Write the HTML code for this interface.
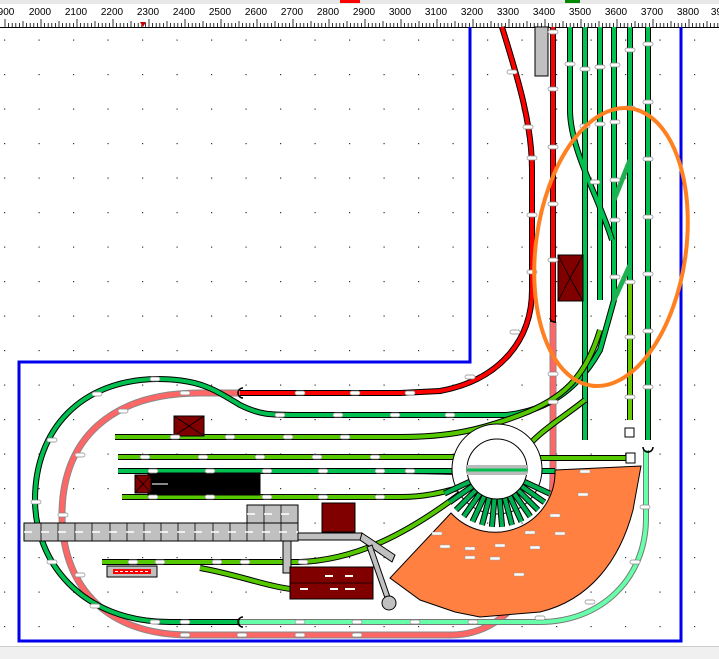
<!DOCTYPE html>
<html><head><meta charset="utf-8"><style>
html,body{margin:0;padding:0;background:#fff;width:719px;height:659px;overflow:hidden}
svg{display:block;font-family:"Liberation Sans",sans-serif}
</style></head><body>
<svg width="719" height="659" viewBox="0 0 719 659" xmlns="http://www.w3.org/2000/svg">
<defs>
<pattern id="dots" x="4" y="5" width="34.5" height="34.5" patternUnits="userSpaceOnUse"><rect x="0" y="0" width="1.2" height="1.2" fill="#333"/></pattern>
</defs>
<rect x="0" y="0" width="719" height="659" fill="#fff"/>
<rect x="0" y="28" width="719" height="617" fill="url(#dots)"/>
<rect x="0" y="0" width="719" height="4" fill="#e8e8e8"/>
<rect x="340" y="0" width="20" height="3" fill="#f00"/>
<rect x="565" y="0" width="15" height="3" fill="#080"/>
<g font-size="10" fill="#000" text-anchor="middle">
<text x="6" y="15">900</text><text x="40" y="15">2000</text><text x="76" y="15">2100</text><text x="112" y="15">2200</text><text x="148" y="15">2300</text><text x="184" y="15">2400</text><text x="220" y="15">2500</text><text x="256" y="15">2600</text><text x="292" y="15">2700</text><text x="328" y="15">2800</text><text x="364" y="15">2900</text><text x="400" y="15">3000</text><text x="436" y="15">3100</text><text x="472" y="15">3200</text><text x="508" y="15">3300</text><text x="544" y="15">3400</text><text x="580" y="15">3500</text><text x="616" y="15">3600</text><text x="652" y="15">3700</text><text x="688" y="15">3800</text><text x="722" y="15">3900</text>
</g>
<path d="M0,27.5H719" stroke="#000"/>
<g stroke="#000" stroke-width="1" id="ticks"></g>
<polygon points="140,22 146,22 143,27" fill="#c00"/>
<path d="M470,27V362H19V641H681V27" fill="none" stroke="#0000ee" stroke-width="3"/>
<g fill="none" stroke-linecap="butt">
<path d="M553,322V470C553,560 520,635 450,635H190C100,635 62,580 62,515C62,440 110,393 200,393H240" stroke="#888" stroke-width="7"/>
<path d="M553,322V470C553,560 520,635 450,635H190C100,635 62,580 62,515C62,440 110,393 200,393H240" stroke="#ff6666" stroke-width="5"/>
<path d="M553,27V322" stroke="#000" stroke-width="6"/><path d="M553,27V322" stroke="#f00" stroke-width="4"/>
<path d="M502,27C515,70 532,120 532,170V290C532,340 500,380 440,391L400,393H240" stroke="#000" stroke-width="6"/>
<path d="M502,27C515,70 532,120 532,170V290C532,340 500,380 440,391L400,393H240" stroke="#f00" stroke-width="4"/>
<path d="M240,622H170C80,622 35,560 35,500C35,430 80,380 157,379C200,379 215,390 240,405C260,415 270,415 300,415H505C540,412 575,395 600,350L614,300V27" stroke="#000" stroke-width="6"/>
<path d="M240,622H170C80,622 35,560 35,500C35,430 80,380 157,379C200,379 215,390 240,405C260,415 270,415 300,415H505C540,412 575,395 600,350L614,300V27" stroke="#00c050" stroke-width="4"/>
<path d="M240,622H540C600,622 645,580 646,520V450" stroke="#777" stroke-width="6"/>
<path d="M240,622H540C600,622 645,580 646,520V450" stroke="#66ffaa" stroke-width="4"/>
<g stroke="#000" stroke-width="6">
<path d="M570,27V110C570,150 600,200 612,240"/><path d="M585,27V440"/><path d="M600,27V300"/><path d="M630,27V420"/><path d="M648,27V440"/>
</g>
<g stroke="#00c050" stroke-width="4">
<path d="M570,27V110C570,150 600,200 612,240"/><path d="M585,27V440"/><path d="M600,27V300"/><path d="M630,27V280"/><path d="M648,27V440"/>
</g>
<path d="M630,280V420" stroke="#66cc00" stroke-width="4"/>
<path d="M614,200L630,160M614,300L630,265" stroke="#20b050" stroke-width="5"/>
<g stroke="#000" stroke-width="6">
<path d="M115,437H400C450,437 480,430 520,415C560,400 585,380 600,330"/>
<path d="M118,457H470"/>
<path d="M120,471H400C430,471 450,472 470,472"/>
<path d="M122,497H400C430,497 450,490 470,485"/>
<path d="M102,562H300C350,560 400,540 465,490"/>
<path d="M200,568C240,575 270,588 300,590"/>
<path d="M630,458H520"/>
<path d="M520,455C540,430 560,420 585,400"/>
</g>
<g stroke="#55c800" stroke-width="4">
<path d="M115,437H400C450,437 480,430 520,415C560,400 585,380 600,330"/>
<path d="M118,457H470"/>
<path d="M120,471H400C430,471 450,472 470,472"/>
<path d="M122,497H400C430,497 450,490 470,485"/>
<path d="M102,562H300C350,560 400,540 465,490"/>
<path d="M200,568C240,575 270,588 300,590"/>
<path d="M630,458H520"/>
<path d="M520,455C540,430 560,420 585,400"/>
</g>
<path d="M118,471H555" stroke="#000" stroke-width="6"/><path d="M118,471H555" stroke="#00c050" stroke-width="4"/>
</g>
<circle cx="497" cy="469" r="45" fill="#fff" stroke="#000" stroke-width="1"/>
<g stroke="#000" stroke-width="6" id="stallsb"></g>
<g stroke="#00b050" stroke-width="4" id="stalls"></g>
<circle cx="497" cy="469" r="30" fill="#fff" stroke="#000"/>
<rect x="467" y="465" width="60" height="10" fill="#bbb"/>
<path d="M467,470H527" stroke="#00c050" stroke-width="3"/>
<path d="M555,470L641,466L633,510C620,560 590,600 540,612L480,617L455,612L420,600L390,578L451,513A60,60 0 0 0 555,470Z" fill="#ff8040" stroke="#000"/>
<g fill="#fff" stroke="#999" stroke-width="0.5">
<rect x="580" y="470" width="10" height="3"/><rect x="578" y="493" width="10" height="3"/><rect x="550" y="514" width="10" height="3"/><rect x="525" y="531" width="10" height="3"/><rect x="555" y="532" width="10" height="3"/><rect x="495" y="544" width="10" height="3"/><rect x="530" y="546" width="10" height="3"/><rect x="440" y="545" width="10" height="3"/><rect x="465" y="547" width="10" height="3"/><rect x="490" y="557" width="10" height="3"/><rect x="432" y="532" width="10" height="3"/><rect x="514" y="573" width="10" height="3"/><rect x="465" y="556" width="10" height="3"/>
</g>
<g fill="#c0c0c0" stroke="#000" stroke-width="1">
<rect x="24" y="523" width="274" height="18"/>
<rect x="247" y="505" width="51" height="18"/>
<rect x="298" y="533" width="64" height="7"/>
<rect x="283" y="541" width="8" height="32"/>
<path d="M362,533L395,555L392,562L360,540Z"/>
<path d="M372,545L390,597L385,598L367,547Z"/>
<circle cx="389" cy="603" r="7"/>
</g>
<g stroke="#000" stroke-width="0.8">
<path d="M41,523V541M58,523V541M75,523V541M92,523V541M110,523V541M127,523V541M144,523V541M161,523V541M178,523V541M195,523V541M213,523V541M230,523V541M247,523V541M264,505V541M281,505V541"/>
</g>
<path d="M24,532H298M247,514H298" stroke="#fff" stroke-width="1.5" stroke-dasharray="8,9"/>
<g fill="#800000" stroke="#000">
<rect x="174" y="416" width="30" height="20"/>
<rect x="148" y="473" width="112" height="22" fill="#000"/>
<rect x="135" y="475" width="16" height="18"/>
<rect x="322" y="503" width="33" height="29"/>
<rect x="290" y="567" width="83" height="32"/>
<rect x="558" y="255" width="25" height="46"/>
</g>
<path d="M174,416L204,436M204,416L174,436M135,475L151,493M151,475L135,493M558,255L570,278L558,301M583,255L570,278L583,301M290,583H373" stroke="#000" stroke-width="0.8" fill="none"/>
<path d="M152,484H168" stroke="#888" stroke-width="2"/>
<g fill="#fff"><rect x="325" y="575" width="8" height="2"/><rect x="345" y="575" width="8" height="2"/><rect x="300" y="588" width="8" height="2"/><rect x="330" y="588" width="8" height="2"/><rect x="345" y="588" width="10" height="2"/></g>
<rect x="107" y="566" width="50" height="11" fill="#c0c0c0" stroke="#000"/>
<rect x="113" y="569" width="38" height="5" fill="#f00"/>
<path d="M115,571.5H150" stroke="#fff" stroke-dasharray="3,2"/>
<rect x="535" y="27" width="13" height="49" fill="#c0c0c0" stroke="#000"/>
<g fill="none" stroke="#000" stroke-width="1.5">
<path d="M243,388A5,5 0 0 0 243,398"/><path d="M243,617A5,5 0 0 0 243,627"/>
<path d="M643,447A5,5 0 0 0 653,447"/><path d="M550,318A5,5 0 0 0 556,322"/>
</g>
<rect x="625" y="428" width="9" height="9" fill="#fff" stroke="#000"/>
<rect x="626" y="453" width="9" height="10" fill="#fff" stroke="#000"/>
<g fill="#fff" stroke="#888" stroke-width="0.7">
<rect x="150" y="377" width="10" height="4" rx="2"/><rect x="92" y="392" width="10" height="4" rx="2"/><rect x="47" y="438" width="10" height="4" rx="2"/><rect x="31" y="500" width="10" height="4" rx="2"/><rect x="47" y="560" width="10" height="4" rx="2"/><rect x="90" y="604" width="10" height="4" rx="2"/>
<rect x="180" y="391" width="10" height="4" rx="2"/><rect x="118" y="409" width="10" height="4" rx="2"/><rect x="75" y="453" width="10" height="4" rx="2"/><rect x="58" y="513" width="10" height="4" rx="2"/><rect x="75" y="573" width="10" height="4" rx="2"/>
<rect x="295" y="391" width="10" height="4" rx="2"/><rect x="350" y="391" width="10" height="4" rx="2"/><rect x="405" y="391" width="10" height="4" rx="2"/><rect x="465" y="375" width="10" height="4" rx="2"/>
<rect x="275" y="413" width="10" height="4" rx="2"/><rect x="333" y="413" width="10" height="4" rx="2"/><rect x="390" y="413" width="10" height="4" rx="2"/><rect x="445" y="413" width="10" height="4" rx="2"/>
<rect x="170" y="435" width="10" height="4" rx="2"/><rect x="225" y="435" width="10" height="4" rx="2"/><rect x="283" y="435" width="10" height="4" rx="2"/><rect x="340" y="435" width="10" height="4" rx="2"/>
<rect x="140" y="455" width="10" height="4" rx="2"/><rect x="198" y="455" width="10" height="4" rx="2"/><rect x="255" y="455" width="10" height="4" rx="2"/><rect x="312" y="455" width="10" height="4" rx="2"/><rect x="370" y="455" width="10" height="4" rx="2"/>
<rect x="148" y="469" width="10" height="4" rx="2"/><rect x="205" y="469" width="10" height="4" rx="2"/><rect x="262" y="469" width="10" height="4" rx="2"/><rect x="318" y="469" width="10" height="4" rx="2"/><rect x="375" y="469" width="10" height="4" rx="2"/><rect x="405" y="469" width="10" height="4" rx="2"/>
<rect x="148" y="495" width="10" height="4" rx="2"/><rect x="205" y="495" width="10" height="4" rx="2"/><rect x="262" y="495" width="10" height="4" rx="2"/><rect x="318" y="495" width="10" height="4" rx="2"/><rect x="375" y="495" width="10" height="4" rx="2"/>
<rect x="128" y="560" width="10" height="4" rx="2"/><rect x="155" y="560" width="10" height="4" rx="2"/><rect x="212" y="560" width="10" height="4" rx="2"/><rect x="240" y="560" width="10" height="4" rx="2"/><rect x="298" y="560" width="10" height="4" rx="2"/>
<rect x="150" y="620" width="10" height="4" rx="2"/><rect x="180" y="620" width="10" height="4" rx="2"/><rect x="295" y="620" width="10" height="4" rx="2"/><rect x="352" y="620" width="10" height="4" rx="2"/><rect x="410" y="620" width="10" height="4" rx="2"/><rect x="468" y="620" width="10" height="4" rx="2"/>
<rect x="180" y="633" width="10" height="4" rx="2"/><rect x="237" y="633" width="10" height="4" rx="2"/><rect x="295" y="633" width="10" height="4" rx="2"/><rect x="352" y="633" width="10" height="4" rx="2"/>
<rect x="548" y="30" width="10" height="4" rx="2"/><rect x="548" y="87" width="10" height="4" rx="2"/><rect x="548" y="145" width="10" height="4" rx="2"/><rect x="548" y="202" width="10" height="4" rx="2"/><rect x="548" y="258" width="10" height="4" rx="2"/><rect x="548" y="372" width="10" height="4" rx="2"/><rect x="548" y="400" width="10" height="4" rx="2"/>
<rect x="507" y="70" width="10" height="4" rx="2"/><rect x="523" y="125" width="10" height="4" rx="2"/><rect x="527" y="156" width="10" height="4" rx="2"/><rect x="527" y="213" width="10" height="4" rx="2"/><rect x="527" y="270" width="10" height="4" rx="2"/><rect x="510" y="330" width="10" height="4" rx="2"/>
<rect x="565" y="62" width="10" height="4" rx="2"/><rect x="580" y="67" width="10" height="4" rx="2"/><rect x="595" y="65" width="10" height="4" rx="2"/><rect x="610" y="63" width="10" height="4" rx="2"/><rect x="625" y="48" width="10" height="4" rx="2"/><rect x="643" y="42" width="10" height="4" rx="2"/>
<rect x="580" y="124" width="10" height="4" rx="2"/><rect x="595" y="122" width="10" height="4" rx="2"/><rect x="610" y="120" width="10" height="4" rx="2"/><rect x="625" y="106" width="10" height="4" rx="2"/><rect x="643" y="100" width="10" height="4" rx="2"/>
<rect x="590" y="180" width="10" height="4" rx="2"/><rect x="610" y="178" width="10" height="4" rx="2"/><rect x="643" y="157" width="10" height="4" rx="2"/><rect x="610" y="218" width="10" height="4" rx="2"/><rect x="643" y="215" width="10" height="4" rx="2"/><rect x="643" y="272" width="10" height="4" rx="2"/><rect x="625" y="280" width="10" height="4" rx="2"/><rect x="610" y="275" width="10" height="4" rx="2"/><rect x="643" y="329" width="10" height="4" rx="2"/><rect x="625" y="335" width="10" height="4" rx="2"/><rect x="643" y="385" width="10" height="4" rx="2"/><rect x="625" y="395" width="10" height="4" rx="2"/>
<rect x="640" y="505" width="10" height="4" rx="2"/><rect x="630" y="560" width="10" height="4" rx="2"/><rect x="585" y="600" width="10" height="4" rx="2"/><rect x="535" y="616" width="10" height="4" rx="2"/>
</g>
<ellipse cx="611" cy="247" rx="75" ry="140" transform="rotate(8 611 247)" fill="none" stroke="#ff8020" stroke-width="4"/>
<rect x="0" y="646" width="719" height="13" fill="#f0f0f0"/>
<path d="M0,646.5H719" stroke="#ccc"/>
<script>
var NS='http://www.w3.org/2000/svg';
var g=document.getElementById('ticks'),s='';
for(var i=0;i<200;i++){var x=5+i*3.6;var h=(i%10==0)?8:(i%5==0?6:4);s+='M'+x.toFixed(1)+','+(27-h)+'V27';}
var p=document.createElementNS(NS,'path');p.setAttribute('d',s);p.setAttribute('stroke','#000');p.setAttribute('stroke-width','0.8');g.appendChild(p);
var d='';for(var a=25;a<=155;a+=10){var r=a*Math.PI/180,c=Math.cos(r),sn=Math.sin(r);d+='M'+(497+30*c).toFixed(1)+','+(469+30*sn).toFixed(1)+'L'+(497+58*c).toFixed(1)+','+(469+58*sn).toFixed(1);}
['stallsb','stalls'].forEach(function(id){var q=document.createElementNS(NS,'path');q.setAttribute('d',d);document.getElementById(id).appendChild(q);});
</script>
</svg>
</body></html>
